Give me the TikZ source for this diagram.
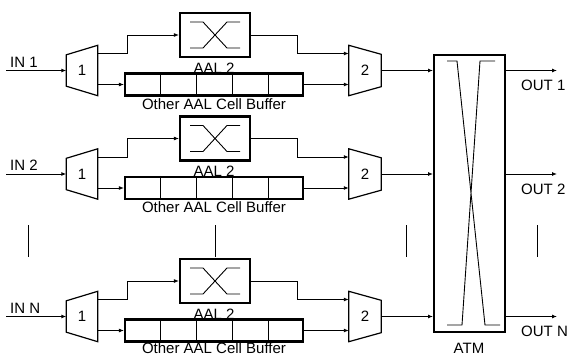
\documentclass[tikz,border=0pt]{standalone}
\usepackage{fontspec}
\setmainfont{Liberation Sans}
\usetikzlibrary{arrows.meta,calc,positioning}

\tikzset{
  conn/.style={line width=0.9pt,-{Latex[length=5pt,width=4pt]}},
  aalbox/.style={draw,line width=2.2pt,minimum width=70pt,minimum height=44pt,inner sep=0pt},
  cellbuf/.style={draw,line width=2.2pt,minimum width=178pt,minimum height=22pt,inner sep=0pt},
  mx/.style={minimum width=31pt,minimum height=50pt,inner sep=0pt,font=\fontsize{15}{17}\selectfont},
  lab/.style={font=\fontsize{15}{17}\selectfont,inner sep=0pt},
}

\begin{document}
\begin{tikzpicture}[x=1pt,y=-1pt]
  \useasboundingbox (0,0) rectangle (571,356);
  % ATM switch
  \node[draw,line width=2pt,minimum width=71pt,minimum height=277pt] (atm) at (469.5,193.5) {};
  \draw[line width=0.9pt] (447,61) -- (457,61) -- (485,325) -- (500,325)
    (495,61) -- (480,61) -- (462,325) -- (447,325);
  \node[lab,anchor=base] (atml) at (469,353) {ATM};
  % one row per input port
  \foreach \i/\yc/\lbl/\bo in {1/70.5/1/38.5,2/174/2/38,3/316.5/N/36.5} {
    \coordinate (in\i) at (6,\yc);
    \node[lab,anchor=base west] (inl\i) at (10,\yc-3.5) {IN \lbl};
    % demux 1
    \node[mx] (d\i) at (82,\yc) {1};
    \draw[line width=1.2pt] (d\i.north east) -- (d\i.south east)
      -- ([yshift=9.5pt]d\i.south west) -- ([yshift=-9.5pt]d\i.north west) -- cycle;
    % AAL2 switch
    \node[aalbox] (a\i) at (215,\yc-35.5) {};
    \draw[line width=0.9pt] ($(a\i.center)+(-25,-13)$) -- ++(13,0) -- ++(24,26) -- ++(13,0)
      ($(a\i.center)+(25,-13)$) -- ++(-13,0) -- ++(-24,26) -- ++(-13,0);
    \node[lab,anchor=base] (al\i) at (214,\yc+2.5) {AAL 2};
    % buffer with five cells
    \node[cellbuf] (b\i) at (214,\yc+14) {};
    \foreach \k in {1,...,4}
      \draw[line width=0.5pt] ($(b\i.north west)!\k/5!(b\i.north east)$)
        -- ($(b\i.south west)!\k/5!(b\i.south east)$);
    \node[lab,anchor=base] (bl\i) at (214,\yc+\bo) {Other AAL Cell Buffer};
    % mux 2
    \node[mx,minimum width=32pt] (m\i) at (365,\yc) {2};
    \draw[line width=1.2pt] (m\i.north west) -- (m\i.south west)
      -- ([yshift=9pt]m\i.south east) -- ([yshift=-9pt]m\i.north east) -- cycle;
    \coordinate (out\i) at (557,\yc);
    \node[lab,anchor=base west] (ol\i) at (521,\yc+20) {OUT \lbl};
    % connectors
    \draw[conn] (in\i) -- (d\i.west);
    \draw[conn] ([yshift=17pt]d\i.east) -- ++(30,0) |- (a\i.west);
    \draw[conn] ([yshift=-14pt]d\i.east) -- (b\i.west);
    \draw[conn] (a\i.east) -- ++(46,0) |- ([yshift=17pt]m\i.west);
    \draw[conn] (b\i.east) -- ([yshift=-14pt]m\i.west);
    \draw[conn] (m\i.east) -- (m\i.east -| atm.west);
    \draw[conn] (m\i.east -| atm.east) -- (out\i);
  }
  % rows left out
  \foreach \x in {28,215,406,537}
    \draw[line width=0.6pt] (\x,225) -- (\x,257);
\end{tikzpicture}
\end{document}
